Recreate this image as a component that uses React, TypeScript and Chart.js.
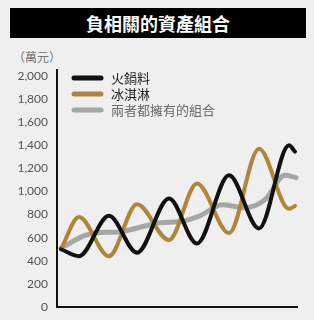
import React, { useEffect, useRef } from "react";
import { Chart, registerables } from "chart.js";

Chart.register(...registerables);

const title = "負相關的資產組合";
const unitLabel = "（萬元）";
const seriesNames = ["火鍋料", "冰淇淋", "兩者都擁有的組合"];
const seriesColors = ["#111111", "#b0853a", "#a6a6a6"];
const legendTextColors = ["#222222", "#222222", "#6a6a6a"];

// time index (arbitrary units along the x axis)
const swingT = [1, 5.5, 13, 20, 28, 35, 43, 50.5, 58, 59.5];
const hotpot = [500, 440, 790, 470, 940, 550, 1140, 680, 1400, 1345];
const icecream = [500, 780, 440, 890, 580, 1070, 640, 1370, 850, 875];
const comboT = [1, 7, 10.75, 15.25, 20.75, 25.75, 30.75, 35.75, 41.25, 47, 52, 57, 59.75];
const combo = [510, 620, 645, 650, 690, 730, 740, 790, 885, 860, 930, 1140, 1120];
const yTicks = [0, 200, 400, 600, 800, 1000, 1200, 1400, 1600, 1800, 2000];

const toPoints = (t: number[], v: number[]) => t.map((x, i) => ({ x, y: v[i] }));

const zeroPad = (s: any) => {
  s.paddingTop = 0;
  s.paddingBottom = 0;
  s.paddingLeft = 0;
  s.paddingRight = 0;
};

const legendPlugin = {
  id: "innerLegend",
  afterDraw(chart: any) {
    const ctx = chart.ctx;
    const x0 = chart.chartArea.left + 17;
    const y0 = chart.chartArea.top + 8;
    ctx.save();
    seriesNames.forEach((name, i) => {
      const y = y0 + i * 16;
      ctx.beginPath();
      ctx.strokeStyle = seriesColors[i];
      ctx.lineWidth = 5;
      ctx.lineCap = "round";
      ctx.moveTo(x0, y);
      ctx.lineTo(x0 + 27, y);
      ctx.stroke();
      ctx.fillStyle = legendTextColors[i];
      ctx.font = "13px 'Noto Sans CJK TC'";
      ctx.textBaseline = "middle";
      ctx.textAlign = "left";
      ctx.fillText(name, x0 + 37, y);
    });
    ctx.restore();
  },
};

export default function App() {
  const ref = useRef<HTMLCanvasElement | null>(null);
  useEffect(() => {
    if (!ref.current) return;
    const chart = new Chart(ref.current, {
      type: "line",
      data: {
        datasets: [
          {
            label: seriesNames[0],
            data: toPoints(swingT, hotpot),
            borderColor: seriesColors[0],
            borderWidth: 4,
          },
          {
            label: seriesNames[1],
            data: toPoints(swingT, icecream),
            borderColor: seriesColors[1],
            borderWidth: 4,
          },
          {
            label: seriesNames[2],
            data: toPoints(comboT, combo),
            borderColor: seriesColors[2],
            borderWidth: 5,
          },
        ].map((d) => ({
          ...d,
          pointRadius: 0,
          fill: false,
          cubicInterpolationMode: "monotone" as const,
          borderCapStyle: "round" as const,
          borderJoinStyle: "round" as const,
          clip: 10,
        })),
      },
      options: {
        animation: false,
        responsive: false,
        maintainAspectRatio: false,
        layout: { padding: { top: 70, right: 17, bottom: 13, left: 0 } },
        plugins: { legend: { display: false }, tooltip: { enabled: false } },
        scales: {
          x: {
            type: "linear",
            min: 0,
            max: 60,
            ticks: { display: false, padding: 0 },
            grid: { display: false, drawTicks: false },
            border: { display: true, color: "#111", width: 2 },
            afterFit: (s: any) => {
              s.height = 0;
              zeroPad(s);
            },
          },
          y: {
            min: 0,
            max: 2052,
            afterBuildTicks: (s: any) => {
              s.ticks = yTicks.map((v) => ({ value: v }));
            },
            ticks: {
              autoSkip: false,
              padding: 9,
              color: "#555",
              font: { family: "Lato", size: 12 },
              callback: (v: any) => Number(v).toLocaleString("en-US"),
            },
            grid: { display: false, drawTicks: false },
            border: { display: true, color: "#111", width: 2 },
            afterFit: (s: any) => {
              s.width = 57;
              zeroPad(s);
            },
          },
        },
      },
      plugins: [legendPlugin],
    });
    return () => chart.destroy();
  }, []);

  return (
    <div
      style={{
        position: "absolute",
        left: 0,
        top: 0,
        width: 314,
        height: 320,
        background: "#efefef",
        overflow: "hidden",
      }}
    >
      <div
        style={{
          position: "absolute",
          left: 10,
          top: 8,
          width: 296,
          height: 30,
          background: "#000",
          color: "#fff",
          fontFamily: "'Noto Sans CJK TC'",
          fontWeight: 700,
          fontSize: 18,
          lineHeight: "30px",
          textAlign: "center",
        }}
      >
        {title}
      </div>
      <div
        style={{
          position: "absolute",
          left: 13,
          top: 49,
          fontFamily: "'Noto Sans CJK TC'",
          fontSize: 12,
          lineHeight: "16px",
          color: "#777",
        }}
      >
        {unitLabel}
      </div>
      <canvas ref={ref} width={314} height={320} style={{ position: "absolute", left: 0, top: 0 }} />
    </div>
  );
}
